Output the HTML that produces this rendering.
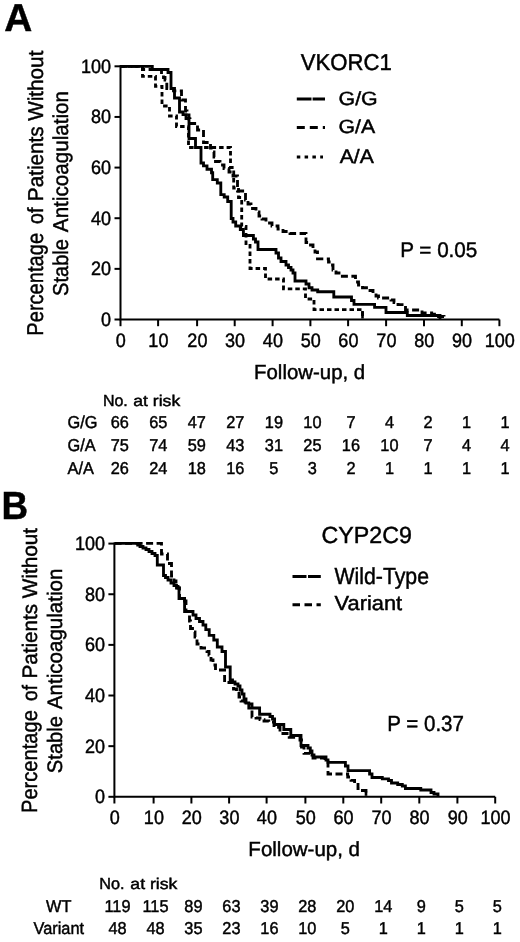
<!DOCTYPE html>
<html><head><meta charset="utf-8"><title>Figure</title>
<style>html,body{margin:0;padding:0;background:#fff;} svg{display:block;}</style>
</head><body>
<svg width="520" height="942" viewBox="0 0 520 942">
<style>
text { font-family: 'Liberation Sans', Arial, Helvetica, sans-serif; fill: #000; stroke: #000; stroke-width: 0.45px; text-rendering: geometricPrecision; }
.tk { font-size: 18.6px; }
.lab { font-size: 20px; }
.tb { font-size: 16.2px; }
.big { font-size: 36.5px; font-weight: bold; }
</style>
<rect width="520" height="942" fill="#fff"/>
<text x="4.20" y="31.30" style="font-size:38.82px;font-weight:bold">A</text>
<text x="1.51" y="518.98" style="font-size:39.13px;font-weight:bold" textLength="26.60" lengthAdjust="spacingAndGlyphs">B</text>
<text x="300.69" y="70.48" style="font-size:22.83px" textLength="91.17" lengthAdjust="spacingAndGlyphs">VKORC1</text>
<text x="338.56" y="105.40" style="font-size:19.15px" textLength="39.19" lengthAdjust="spacingAndGlyphs">G/G</text>
<text x="338.57" y="133.26" style="font-size:19.15px" textLength="36.58" lengthAdjust="spacingAndGlyphs">G/A</text>
<text x="339.76" y="162.58" style="font-size:19.50px" textLength="34.07" lengthAdjust="spacingAndGlyphs">A/A</text>
<text x="400.18" y="256.52" style="font-size:21.15px" textLength="77.18" lengthAdjust="spacingAndGlyphs">P = 0.05</text>
<text x="254.08" y="379.18" style="font-size:20.38px" textLength="111.07" lengthAdjust="spacingAndGlyphs">Follow-up, d</text>
<text x="321.56" y="543.00" style="font-size:23.32px" textLength="90.33" lengthAdjust="spacingAndGlyphs">CYP2C9</text>
<text x="334.46" y="584.13" style="font-size:23.28px" textLength="94.58" lengthAdjust="spacingAndGlyphs">Wild-Type</text>
<text x="334.61" y="610.08" style="font-size:20.49px" textLength="67.54" lengthAdjust="spacingAndGlyphs">Variant</text>
<text x="387.28" y="731.12" style="font-size:21.82px" textLength="76.69" lengthAdjust="spacingAndGlyphs">P = 0.37</text>
<text x="248.39" y="856.28" style="font-size:20.38px" textLength="111.64" lengthAdjust="spacingAndGlyphs">Follow-up, d</text>
<text x="102.95" y="405.78" style="font-size:16.09px" textLength="24.89" lengthAdjust="spacingAndGlyphs">No.</text>
<text x="133.28" y="405.53" style="font-size:15.43px" textLength="46.97" lengthAdjust="spacingAndGlyphs">at risk</text>
<text x="99.26" y="888.78" style="font-size:16.09px" textLength="25.31" lengthAdjust="spacingAndGlyphs">No.</text>
<text x="130.39" y="888.52" style="font-size:15.41px" textLength="47.05" lengthAdjust="spacingAndGlyphs">at risk</text>
<text transform="translate(42.80,335.68) rotate(-90)" style="font-size:22.95px" textLength="102.74" lengthAdjust="spacingAndGlyphs">Percentage</text>
<text transform="translate(42.80,223.95) rotate(-90)" style="font-size:21.93px" textLength="16.37" lengthAdjust="spacingAndGlyphs">of</text>
<text transform="translate(42.80,201.19) rotate(-90)" style="font-size:21.50px" textLength="74.90" lengthAdjust="spacingAndGlyphs">Patients</text>
<text transform="translate(42.80,120.86) rotate(-90)" style="font-size:21.50px" textLength="70.27" lengthAdjust="spacingAndGlyphs">Without</text>
<text transform="translate(67.80,295.88) rotate(-90)" style="font-size:21.50px" textLength="56.85" lengthAdjust="spacingAndGlyphs">Stable</text>
<text transform="translate(67.80,232.13) rotate(-90)" style="font-size:21.50px" textLength="141.10" lengthAdjust="spacingAndGlyphs">Anticoagulation</text>
<text transform="translate(37.00,813.02) rotate(-90)" style="font-size:22.05px" textLength="102.90" lengthAdjust="spacingAndGlyphs">Percentage</text>
<text transform="translate(37.00,701.01) rotate(-90)" style="font-size:20.94px" textLength="15.99" lengthAdjust="spacingAndGlyphs">of</text>
<text transform="translate(37.00,678.52) rotate(-90)" style="font-size:20.94px" textLength="74.59" lengthAdjust="spacingAndGlyphs">Patients</text>
<text transform="translate(37.00,598.23) rotate(-90)" style="font-size:20.94px" textLength="70.31" lengthAdjust="spacingAndGlyphs">Without</text>
<text transform="translate(62.00,773.19) rotate(-90)" style="font-size:20.94px" textLength="57.23" lengthAdjust="spacingAndGlyphs">Stable</text>
<text transform="translate(62.00,709.24) rotate(-90)" style="font-size:20.94px" textLength="140.70" lengthAdjust="spacingAndGlyphs">Anticoagulation</text>
<path d="M120.5,65.3 V319.5 H499.4" fill="none" stroke="#000" stroke-width="2"/>
<path d="M114.5,319.50 H120.5" stroke="#000" stroke-width="2"/>
<path d="M114.5,268.86 H120.5" stroke="#000" stroke-width="2"/>
<path d="M114.5,218.22 H120.5" stroke="#000" stroke-width="2"/>
<path d="M114.5,167.58 H120.5" stroke="#000" stroke-width="2"/>
<path d="M114.5,116.94 H120.5" stroke="#000" stroke-width="2"/>
<path d="M114.5,66.30 H120.5" stroke="#000" stroke-width="2"/>
<path d="M120.50,319.5 V326.2" stroke="#000" stroke-width="2"/>
<path d="M158.10,319.5 V326.2" stroke="#000" stroke-width="2"/>
<path d="M197.10,319.5 V326.2" stroke="#000" stroke-width="2"/>
<path d="M234.70,319.5 V326.2" stroke="#000" stroke-width="2"/>
<path d="M272.60,319.5 V326.2" stroke="#000" stroke-width="2"/>
<path d="M310.40,319.5 V326.2" stroke="#000" stroke-width="2"/>
<path d="M348.10,319.5 V326.2" stroke="#000" stroke-width="2"/>
<path d="M386.10,319.5 V326.2" stroke="#000" stroke-width="2"/>
<path d="M424.00,319.5 V326.2" stroke="#000" stroke-width="2"/>
<path d="M461.80,319.5 V326.2" stroke="#000" stroke-width="2"/>
<path d="M499.40,319.5 V326.2" stroke="#000" stroke-width="2"/>
<text transform="translate(111.00,326.00) scale(0.93,1)" text-anchor="end" style="font-size:19.4px">0</text>
<text transform="translate(111.00,275.36) scale(0.93,1)" text-anchor="end" style="font-size:19.4px">20</text>
<text transform="translate(111.00,224.72) scale(0.93,1)" text-anchor="end" style="font-size:19.4px">40</text>
<text transform="translate(111.00,174.08) scale(0.93,1)" text-anchor="end" style="font-size:19.4px">60</text>
<text transform="translate(111.00,123.44) scale(0.93,1)" text-anchor="end" style="font-size:19.4px">80</text>
<text transform="translate(111.00,72.80) scale(0.93,1)" text-anchor="end" style="font-size:19.4px">100</text>
<text transform="translate(120.80,347.0) scale(0.93,1)" text-anchor="middle" style="font-size:19.4px">0</text>
<text transform="translate(158.40,347.0) scale(0.93,1)" text-anchor="middle" style="font-size:19.4px">10</text>
<text transform="translate(197.40,347.0) scale(0.93,1)" text-anchor="middle" style="font-size:19.4px">20</text>
<text transform="translate(235.00,347.0) scale(0.93,1)" text-anchor="middle" style="font-size:19.4px">30</text>
<text transform="translate(272.90,347.0) scale(0.93,1)" text-anchor="middle" style="font-size:19.4px">40</text>
<text transform="translate(310.70,347.0) scale(0.93,1)" text-anchor="middle" style="font-size:19.4px">50</text>
<text transform="translate(348.40,347.0) scale(0.93,1)" text-anchor="middle" style="font-size:19.4px">60</text>
<text transform="translate(386.40,347.0) scale(0.93,1)" text-anchor="middle" style="font-size:19.4px">70</text>
<text transform="translate(424.30,347.0) scale(0.93,1)" text-anchor="middle" style="font-size:19.4px">80</text>
<text transform="translate(462.10,347.0) scale(0.93,1)" text-anchor="middle" style="font-size:19.4px">90</text>
<text transform="translate(499.70,347.0) scale(0.93,1)" text-anchor="middle" style="font-size:19.4px">100</text>
<path d="M120.3,66.3 H142.5 V76.3 H155.5 V86.3 H162 V106 H169.5 V116 H176.5 V126.5 H188.5 V147.5 H230.5 V167.5 H233.7 V188 H238.5 V197.5 H241.7 V226.5 H246 V245.5 H250 V268.5 H265.5 V279 H283.5 V288.8 H305.5 V299 H314 V309.6 H362.5 V319.5" fill="none" stroke="#000" stroke-width="2.85" stroke-dasharray="4.5 3"/>
<path d="M120.3,66.3 H142.5 V69.5 H161.5 V75 H163.5 V77.5 H165 V80 H166.8 V88.5 H173.5 V90.8 H181.5 V100 H185.5 V111 H187 V115 H189 V119 H190 V123.5 H197.5 V130 H203.5 V142.5 H210.5 V148 H212.5 V152 H214 V157 H215.5 V161.5 H220 V165 H224 V168.5 H229 V172 H233 V176 H237.5 V191 H245.5 V200 H248 V204 H251 V208.5 H256 V212 H259 V216 H262 V219 H266 V223 H272 V226 H278 V229 H283 V231.5 H290 V233.5 H306 V242.5 H309 V245 H313 V248.5 H315 V252 H317.5 V258.8 H328.5 V262 H331 V265 H333 V270 H336 V273 H339 V276.2 H355.5 V282 H358.5 V285 H362.5 V287.7 H370 V290.5 H373 V293.5 H376 V296 H378.5 V298 H391 V300 H394 V302.5 H398 V304.6 H405.5 V310 H422 V313 H431.7 V314.2 H436.5 V316.5 H444 V319.5" fill="none" stroke="#000" stroke-width="2.85" stroke-dasharray="7 3.5"/>
<path d="M120.3,66.3 H152.3 V69.5 H168 V72.5 H171 V88.5 H174.5 V98 H179.5 V112 H183 V114.6 H186 V118.5 H189 V138.5 H195.5 V147.5 H201 V163 H203.5 V165.8 H207 V169.2 H211.5 V172.7 H212.7 V179.6 H217.3 V183 H220.8 V194.6 H224.2 V197 H227.7 V201.5 H231.2 V218.5 H233 V222 H235.7 V226 H240.3 V229.5 H243.4 V235.5 H253.4 V239 H255.5 V242 H258 V249.5 H276 V253 H278.5 V258 H281 V261.5 H286 V265 H288.5 V267.5 H291 V270 H293 V273 H295 V281 H306 V284 H309 V287.7 H312 V290 H317.7 V291.7 H333.8 V297 H351.5 V300.5 H354 V304.4 H374.6 V307.3 H386 V312.5 H407.3 V315.5 H440 V319.5" fill="none" stroke="#000" stroke-width="2.85" />
<path d="M362.5,311 V318.5" stroke="#000" stroke-width="2.6"/>
<path d="M296.8,99.1 H325" stroke="#000" stroke-width="3" stroke-dasharray="14.7 1.1"/>
<path d="M296.8,127.4 H325" stroke="#000" stroke-width="3" stroke-dasharray="8 5"/>
<path d="M296.8,157 H323" stroke="#000" stroke-width="3.2" stroke-dasharray="3.5 4.3"/>
<text transform="translate(67.60,428.00) scale(0.95,1)" text-anchor="start" style="font-size:17.2px">G/G</text>
<text transform="translate(119.80,428.00) scale(0.95,1)" text-anchor="middle" style="font-size:17.2px">66</text>
<text transform="translate(158.32,428.00) scale(0.95,1)" text-anchor="middle" style="font-size:17.2px">65</text>
<text transform="translate(196.84,428.00) scale(0.95,1)" text-anchor="middle" style="font-size:17.2px">47</text>
<text transform="translate(235.36,428.00) scale(0.95,1)" text-anchor="middle" style="font-size:17.2px">27</text>
<text transform="translate(273.88,428.00) scale(0.95,1)" text-anchor="middle" style="font-size:17.2px">19</text>
<text transform="translate(312.40,428.00) scale(0.95,1)" text-anchor="middle" style="font-size:17.2px">10</text>
<text transform="translate(350.92,428.00) scale(0.95,1)" text-anchor="middle" style="font-size:17.2px">7</text>
<text transform="translate(389.44,428.00) scale(0.95,1)" text-anchor="middle" style="font-size:17.2px">4</text>
<text transform="translate(427.96,428.00) scale(0.95,1)" text-anchor="middle" style="font-size:17.2px">2</text>
<text transform="translate(466.48,428.00) scale(0.95,1)" text-anchor="middle" style="font-size:17.2px">1</text>
<text transform="translate(505.00,428.00) scale(0.95,1)" text-anchor="middle" style="font-size:17.2px">1</text>
<text transform="translate(67.60,451.30) scale(0.95,1)" text-anchor="start" style="font-size:17.2px">G/A</text>
<text transform="translate(119.80,451.30) scale(0.95,1)" text-anchor="middle" style="font-size:17.2px">75</text>
<text transform="translate(158.32,451.30) scale(0.95,1)" text-anchor="middle" style="font-size:17.2px">74</text>
<text transform="translate(196.84,451.30) scale(0.95,1)" text-anchor="middle" style="font-size:17.2px">59</text>
<text transform="translate(235.36,451.30) scale(0.95,1)" text-anchor="middle" style="font-size:17.2px">43</text>
<text transform="translate(273.88,451.30) scale(0.95,1)" text-anchor="middle" style="font-size:17.2px">31</text>
<text transform="translate(312.40,451.30) scale(0.95,1)" text-anchor="middle" style="font-size:17.2px">25</text>
<text transform="translate(350.92,451.30) scale(0.95,1)" text-anchor="middle" style="font-size:17.2px">16</text>
<text transform="translate(389.44,451.30) scale(0.95,1)" text-anchor="middle" style="font-size:17.2px">10</text>
<text transform="translate(427.96,451.30) scale(0.95,1)" text-anchor="middle" style="font-size:17.2px">7</text>
<text transform="translate(466.48,451.30) scale(0.95,1)" text-anchor="middle" style="font-size:17.2px">4</text>
<text transform="translate(505.00,451.30) scale(0.95,1)" text-anchor="middle" style="font-size:17.2px">4</text>
<text transform="translate(67.60,473.60) scale(0.95,1)" text-anchor="start" style="font-size:17.2px">A/A</text>
<text transform="translate(119.80,473.60) scale(0.95,1)" text-anchor="middle" style="font-size:17.2px">26</text>
<text transform="translate(158.32,473.60) scale(0.95,1)" text-anchor="middle" style="font-size:17.2px">24</text>
<text transform="translate(196.84,473.60) scale(0.95,1)" text-anchor="middle" style="font-size:17.2px">18</text>
<text transform="translate(235.36,473.60) scale(0.95,1)" text-anchor="middle" style="font-size:17.2px">16</text>
<text transform="translate(273.88,473.60) scale(0.95,1)" text-anchor="middle" style="font-size:17.2px">5</text>
<text transform="translate(312.40,473.60) scale(0.95,1)" text-anchor="middle" style="font-size:17.2px">3</text>
<text transform="translate(350.92,473.60) scale(0.95,1)" text-anchor="middle" style="font-size:17.2px">2</text>
<text transform="translate(389.44,473.60) scale(0.95,1)" text-anchor="middle" style="font-size:17.2px">1</text>
<text transform="translate(427.96,473.60) scale(0.95,1)" text-anchor="middle" style="font-size:17.2px">1</text>
<text transform="translate(466.48,473.60) scale(0.95,1)" text-anchor="middle" style="font-size:17.2px">1</text>
<text transform="translate(505.00,473.60) scale(0.95,1)" text-anchor="middle" style="font-size:17.2px">1</text>
<path d="M114.4,542.6 V796.8 H495.2" fill="none" stroke="#000" stroke-width="2"/>
<path d="M108.4,796.80 H114.4" stroke="#000" stroke-width="2"/>
<path d="M108.4,746.16 H114.4" stroke="#000" stroke-width="2"/>
<path d="M108.4,695.52 H114.4" stroke="#000" stroke-width="2"/>
<path d="M108.4,644.88 H114.4" stroke="#000" stroke-width="2"/>
<path d="M108.4,594.24 H114.4" stroke="#000" stroke-width="2"/>
<path d="M108.4,543.60 H114.4" stroke="#000" stroke-width="2"/>
<path d="M114.40,796.8 V803.5" stroke="#000" stroke-width="2"/>
<path d="M153.60,796.8 V803.5" stroke="#000" stroke-width="2"/>
<path d="M191.40,796.8 V803.5" stroke="#000" stroke-width="2"/>
<path d="M229.10,796.8 V803.5" stroke="#000" stroke-width="2"/>
<path d="M266.60,796.8 V803.5" stroke="#000" stroke-width="2"/>
<path d="M305.40,796.8 V803.5" stroke="#000" stroke-width="2"/>
<path d="M343.30,796.8 V803.5" stroke="#000" stroke-width="2"/>
<path d="M381.20,796.8 V803.5" stroke="#000" stroke-width="2"/>
<path d="M419.30,796.8 V803.5" stroke="#000" stroke-width="2"/>
<path d="M457.40,796.8 V803.5" stroke="#000" stroke-width="2"/>
<path d="M495.20,796.8 V803.5" stroke="#000" stroke-width="2"/>
<text transform="translate(105.00,803.30) scale(0.93,1)" text-anchor="end" style="font-size:19.4px">0</text>
<text transform="translate(105.00,752.66) scale(0.93,1)" text-anchor="end" style="font-size:19.4px">20</text>
<text transform="translate(105.00,702.02) scale(0.93,1)" text-anchor="end" style="font-size:19.4px">40</text>
<text transform="translate(105.00,651.38) scale(0.93,1)" text-anchor="end" style="font-size:19.4px">60</text>
<text transform="translate(105.00,600.74) scale(0.93,1)" text-anchor="end" style="font-size:19.4px">80</text>
<text transform="translate(105.00,550.10) scale(0.93,1)" text-anchor="end" style="font-size:19.4px">100</text>
<text transform="translate(114.70,824.3) scale(0.93,1)" text-anchor="middle" style="font-size:19.4px">0</text>
<text transform="translate(153.90,824.3) scale(0.93,1)" text-anchor="middle" style="font-size:19.4px">10</text>
<text transform="translate(191.70,824.3) scale(0.93,1)" text-anchor="middle" style="font-size:19.4px">20</text>
<text transform="translate(229.40,824.3) scale(0.93,1)" text-anchor="middle" style="font-size:19.4px">30</text>
<text transform="translate(266.90,824.3) scale(0.93,1)" text-anchor="middle" style="font-size:19.4px">40</text>
<text transform="translate(305.70,824.3) scale(0.93,1)" text-anchor="middle" style="font-size:19.4px">50</text>
<text transform="translate(343.60,824.3) scale(0.93,1)" text-anchor="middle" style="font-size:19.4px">60</text>
<text transform="translate(381.50,824.3) scale(0.93,1)" text-anchor="middle" style="font-size:19.4px">70</text>
<text transform="translate(419.60,824.3) scale(0.93,1)" text-anchor="middle" style="font-size:19.4px">80</text>
<text transform="translate(457.70,824.3) scale(0.93,1)" text-anchor="middle" style="font-size:19.4px">90</text>
<text transform="translate(495.50,824.3) scale(0.93,1)" text-anchor="middle" style="font-size:19.4px">100</text>
<path d="M114.6,543.4 H161.5 V554 H167.5 V563.5 H171.5 V576 H174 V581 H176 V584 H178 V588 H179.5 V598.5 H184.6 V601 H186 V611.5 H189.5 V621 H190.5 V628.5 H192.5 V632 H195 V637 H197 V644 H201 V648 H207 V651.5 H209 V655 H211 V660 H213 V665 H215.5 V670 H224.6 V682.5 H233.5 V689 H236.5 V692 H239 V697 H241 V701 H245 V704 H252 V717 H256 V718 H260 V719.6 H264 V721 H268.8 V722 H274 V727.4 H280 V732 H281.5 V733.5 H289.2 V737.4 H300 V740 H301.5 V747 H304 V753.4 H310 V756 H313 V758 H325 V760.5 H328 V774 H347.7 V777 H351 V780.4 H354.6 V784.4 H358 V788.5 H360 V790.5 H366 V796.8" fill="none" stroke="#000" stroke-width="2.85" stroke-dasharray="7 3.5"/>
<path d="M114.6,543.4 H137.7 V545 H140 V546.5 H143 V548 H146 V549.5 H149 V551.5 H152 V553.5 H155 V555.5 H157.3 V565 H163.5 V575.5 H165.5 V577.5 H168 V580 H171 V583 H174 V585.5 H176.5 V588 H179 V598.5 H184.6 V611.5 H193 V615 H196 V618.5 H199.5 V621.5 H203 V625 H205.8 V629.6 H209.2 V635.4 H213.8 V640 H217.3 V647 H222 V651.5 H225.5 V667 H230.2 V680 H232.5 V682 H235 V684 H238 V686 H240 V690 H242 V694 H244 V699 H246 V703 H248.8 V708 H259.6 V714.2 H270 V716.5 H272.5 V719 H274.6 V724.5 H283.8 V729.5 H290.8 V735.5 H301 V745.5 H308 V748 H310.3 V751 H312 V755 H314 V757 H326 V760 H328 V762.3 H345.4 V766 H348 V770.6 H369.6 V774 H372 V777.5 H382.3 V778.8 H388.5 V780.5 H391.5 V783 H397.7 V784.5 H402.3 V786 H405.4 V788.5 H420.8 V790 H431 V792.5 H434 V794 H438 V796.8" fill="none" stroke="#000" stroke-width="2.85" />
<path d="M366,791.5 V795.8" stroke="#000" stroke-width="2.6"/>
<path d="M292.5,576.4 H320.8" stroke="#000" stroke-width="3" stroke-dasharray="14 1.5"/>
<path d="M292.5,604.8 H320.8" stroke="#000" stroke-width="3" stroke-dasharray="7.5 4.5"/>
<text transform="translate(58.80,911.90) scale(0.95,1)" text-anchor="middle" style="font-size:17.2px">WT</text>
<text transform="translate(117.50,911.90) scale(0.95,1)" text-anchor="middle" style="font-size:17.2px">119</text>
<text transform="translate(155.47,911.90) scale(0.95,1)" text-anchor="middle" style="font-size:17.2px">115</text>
<text transform="translate(193.44,911.90) scale(0.95,1)" text-anchor="middle" style="font-size:17.2px">89</text>
<text transform="translate(231.41,911.90) scale(0.95,1)" text-anchor="middle" style="font-size:17.2px">63</text>
<text transform="translate(269.38,911.90) scale(0.95,1)" text-anchor="middle" style="font-size:17.2px">39</text>
<text transform="translate(307.35,911.90) scale(0.95,1)" text-anchor="middle" style="font-size:17.2px">28</text>
<text transform="translate(345.32,911.90) scale(0.95,1)" text-anchor="middle" style="font-size:17.2px">20</text>
<text transform="translate(383.29,911.90) scale(0.95,1)" text-anchor="middle" style="font-size:17.2px">14</text>
<text transform="translate(421.26,911.90) scale(0.95,1)" text-anchor="middle" style="font-size:17.2px">9</text>
<text transform="translate(459.23,911.90) scale(0.95,1)" text-anchor="middle" style="font-size:17.2px">5</text>
<text transform="translate(497.20,911.90) scale(0.95,1)" text-anchor="middle" style="font-size:17.2px">5</text>
<text transform="translate(58.80,933.50) scale(0.95,1)" text-anchor="middle" style="font-size:17.2px">Variant</text>
<text transform="translate(117.50,933.50) scale(0.95,1)" text-anchor="middle" style="font-size:17.2px">48</text>
<text transform="translate(155.47,933.50) scale(0.95,1)" text-anchor="middle" style="font-size:17.2px">48</text>
<text transform="translate(193.44,933.50) scale(0.95,1)" text-anchor="middle" style="font-size:17.2px">35</text>
<text transform="translate(231.41,933.50) scale(0.95,1)" text-anchor="middle" style="font-size:17.2px">23</text>
<text transform="translate(269.38,933.50) scale(0.95,1)" text-anchor="middle" style="font-size:17.2px">16</text>
<text transform="translate(307.35,933.50) scale(0.95,1)" text-anchor="middle" style="font-size:17.2px">10</text>
<text transform="translate(345.32,933.50) scale(0.95,1)" text-anchor="middle" style="font-size:17.2px">5</text>
<text transform="translate(383.29,933.50) scale(0.95,1)" text-anchor="middle" style="font-size:17.2px">1</text>
<text transform="translate(421.26,933.50) scale(0.95,1)" text-anchor="middle" style="font-size:17.2px">1</text>
<text transform="translate(459.23,933.50) scale(0.95,1)" text-anchor="middle" style="font-size:17.2px">1</text>
<text transform="translate(497.20,933.50) scale(0.95,1)" text-anchor="middle" style="font-size:17.2px">1</text>
</svg>
</body></html>
